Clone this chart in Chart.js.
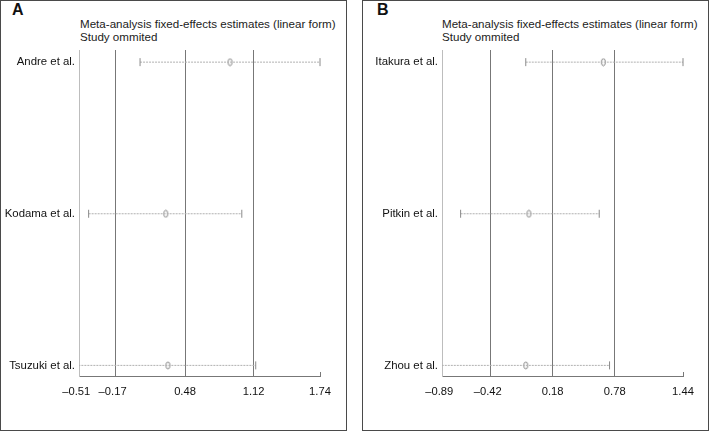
<!DOCTYPE html>
<html>
<head>
<meta charset="utf-8">
<script src="https://cdn.jsdelivr.net/npm/chart.js@4/dist/chart.umd.min.js"></script>
<style>
  body { margin: 0; background: #fff; font-family: Arial, "Liberation Sans", sans-serif; }
  #wrap { position: relative; width: 710px; height: 434px; overflow: hidden; }
  .frame { position: absolute; top: 0; height: 431px; border: 1.5px solid #4a4a4a; box-sizing: border-box; }
  .letter { position: absolute; top: 1px; font-size: 16px; font-weight: bold; color: #111; }
  .ttl { position: absolute; font-size: 11.6px; line-height: 13px; color: #222; white-space: nowrap; }
  canvas { position: absolute; top: 0; }
</style>
</head>
<body>
<div id="wrap">
  <div class="frame" style="left:0; width:347px;"></div>
  <div class="frame" style="left:362px; width:347px;"></div>
  <div class="letter" style="left:12px;">A</div>
  <div class="letter" style="left:377px;">B</div>
  <div class="ttl" style="left:80px; top:17px;">Meta-analysis fixed-effects estimates (linear form)</div>
  <div class="ttl" style="left:80px; top:30px;">Study ommited</div>
  <div class="ttl" style="left:442px; top:17px;">Meta-analysis fixed-effects estimates (linear form)</div>
  <div class="ttl" style="left:442px; top:30px;">Study ommited</div>
  <canvas id="chartA" width="350" height="434" style="left:0; width:350px; height:434px;"></canvas>
  <canvas id="chartB" width="355" height="434" style="left:355px; width:355px; height:434px;"></canvas>
</div>
<script>
// panel A
const studiesA = ['Andre et al.', 'Kodama et al.', 'Tsuzuki et al.'];
const estA = [0.90, 0.30, 0.32];
const lowA = [0.06, -0.42, -0.60];
const highA = [1.74, 1.01, 1.14];
const ticksA = [-0.51, -0.17, 0.48, 1.12, 1.74];

// panel B
const studiesB = ['Itakura et al.', 'Pitkin et al.', 'Zhou et al.'];
const estB = [0.67, -0.05, -0.08];
const lowB = [-0.08, -0.71, -0.95];
const highB = [1.44, 0.63, 0.73];
const ticksB = [-0.89, -0.42, 0.18, 0.78, 1.44];

// little open ellipse used as the point marker
const marker = document.createElement('canvas');
marker.width = 7; marker.height = 9;
(function () {
  const c = marker.getContext('2d');
  c.strokeStyle = '#8a8a8a';
  c.lineWidth = 1;
  c.beginPath();
  c.ellipse(3.5, 4.5, 2, 3.5, 0, 0, Math.PI * 2);
  c.stroke();
})();

// negative labels: dash hangs left of the number, so pad the right side
const fmt = v => v < 0 ? '\u2013' + Math.abs(v).toFixed(2) + '\u2002' : v.toFixed(2);
const font = { family: 'Arial, "Liberation Sans", sans-serif', size: 11.4 };

// short upward tick at the right end of the x axis
const endTick = {
  id: 'endTick',
  afterDraw(chart) {
    const xs = chart.scales.x, a = chart.chartArea, ctx = chart.ctx;
    const x = Math.round(xs.getPixelForValue(xs.max)) + 0.5;
    ctx.save();
    ctx.strokeStyle = '#777';
    ctx.lineWidth = 1;
    ctx.beginPath();
    ctx.moveTo(x, a.bottom - 4);
    ctx.lineTo(x, a.bottom);
    ctx.stroke();
    ctx.restore();
  }
};

function forest(id, studies, est, low, high, ticks, yWidth, padRight) {
  const datasets = studies.map((s, i) => ({
    type: 'line',
    data: [{ x: low[i], y: i + 1 }, { x: high[i], y: i + 1 }],
    borderColor: '#b0b0b0',
    borderWidth: 1,
    borderDash: [2, 1],
    pointStyle: 'line',
    rotation: 90,
    pointRadius: 4,
    pointBorderColor: '#8a8a8a',
    pointBorderWidth: 1,
    clip: { left: 0, top: false, right: 2, bottom: false }
  }));
  datasets.push({
    type: 'scatter',
    data: est.map((v, i) => ({ x: v, y: i + 1 })),
    pointStyle: marker,
    pointRadius: 4
  });

  new Chart(document.getElementById(id), {
    type: 'scatter',
    data: { datasets: datasets },
    plugins: [endTick],
    options: {
      responsive: false,
      animation: false,
      events: [],
      layout: { padding: { left: 0, right: padRight, top: 50, bottom: 0 } },
      plugins: { legend: { display: false }, tooltip: { enabled: false } },
      scales: {
        x: {
          type: 'linear',
          min: ticks[0],
          max: ticks[ticks.length - 1],
          afterBuildTicks: s => { s.ticks = ticks.map(v => ({ value: v })); },
          afterFit: s => { s.height = 58; },
          grid: {
            drawTicks: false,
            color: c => (c.index === 0 || c.index === ticks.length - 1) ? 'rgba(0,0,0,0)' : '#777',
            lineWidth: 1
          },
          border: { color: '#777', width: 1 },
          ticks: {
            padding: 9,
            color: '#111',
            font: { family: font.family, size: 11.2 },
            callback: v => fmt(v),
            maxRotation: 0,
            autoSkip: false
          }
        },
        y: {
          type: 'linear',
          reverse: true,
          min: 0.92,
          max: 3.07,
          afterBuildTicks: s => { s.ticks = studies.map((_, i) => ({ value: i + 1 })); },
          afterFit: s => { s.width = yWidth; },
          grid: { display: false, drawTicks: false },
          border: { color: '#bdbdbd', width: 1 },
          ticks: {
            padding: 4,
            color: '#111',
            font: font,
            callback: v => studies[Math.round(v) - 1] || ''
          }
        }
      }
    }
  });
}

forest('chartA', studiesA, estA, lowA, highA, ticksA, 79, 30);
forest('chartB', studiesB, estB, lowB, highB, ticksB, 87, 27);
</script>
</body>
</html>
